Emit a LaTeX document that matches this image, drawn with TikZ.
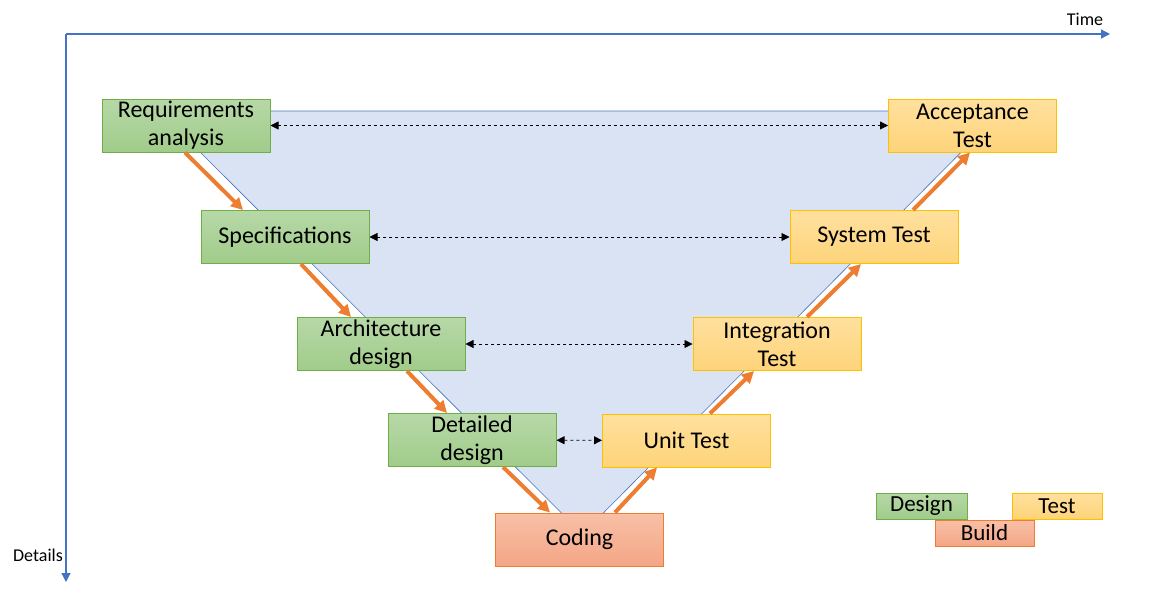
\documentclass[tikz,border=0pt]{standalone}
\usepackage{fontspec}
\setmainfont{Carlito}
\usetikzlibrary{arrows.meta,calc}

\definecolor{axisblue}{RGB}{68,114,196}
\definecolor{vfill}{RGB}{218,227,243}
\definecolor{greenline}{RGB}{112,173,71}
\definecolor{greentop}{RGB}{183,216,167}
\definecolor{greenbot}{RGB}{160,204,138}
\definecolor{yellowline}{RGB}{255,192,0}
\definecolor{yellowtop}{RGB}{255,224,158}
\definecolor{yellowbot}{RGB}{254,212,122}
\definecolor{orangeline}{RGB}{237,125,49}
\definecolor{orangetop}{RGB}{248,192,167}
\definecolor{orangebot}{RGB}{244,166,134}

\begin{document}
\begin{tikzpicture}[x=1pt, y=-1pt,
   box/.style={draw, line width=1pt, minimum width=168pt, minimum height=53pt,
               inner sep=0pt, align=center, font=\fontsize{24}{28}\selectfont},
   design/.style={box, draw=greenline, top color=greentop, bottom color=greenbot},
   test/.style={box, draw=yellowline, top color=yellowtop, bottom color=yellowbot},
   build/.style={box, draw=orangeline, top color=orangetop, bottom color=orangebot},
   key/.style={minimum height=26pt, font=\fontsize{23}{26}\selectfont},
   flow/.style={draw=orangeline, line width=4pt, -{Triangle[length=12pt,width=12pt]}},
   link/.style={line width=0.8pt, dash pattern=on 3pt off 3pt,
                {Triangle[length=8pt,width=8pt]}-{Triangle[length=8pt,width=8pt]}},
   axis/.style={draw=axisblue, line width=1.2pt, -{Triangle[length=9pt,width=9pt]}},
   axislabel/.style={inner sep=0pt, font=\fontsize{18}{20}\selectfont}]

\useasboundingbox (0,0) rectangle (1156,592);

% axes
\coordinate (origin) at (66,34);
\coordinate (tend) at (1110,34);
\coordinate (dend) at (66,582);
\draw[axis] (origin) -- (tend);
\draw[axis] (origin) -- (dend);
\node[axislabel] (time) at (1085,19) {Time};
\node[axislabel] (details) at (38,555) {Details};

% the V
\filldraw[fill=vfill, draw=axisblue, line width=0.6pt]
   (159,111) -- (1002,111) -- (582.5,534) -- cycle;

% left branch
\node[design] (req)  at (186,125.5) {Requirements\\analysis};
\node[design] (spec) at (285,237)   {Specifications};
\node[design] (arch) at (381,344)   {Architecture\\design};
\node[design] (det)  at (472,440)   {Detailed\\design};

% bottom
\node[build]  (cod)  at (579.5,539.5) {Coding};

% right branch
\node[test] (unit)  at (686.5,440.5) {Unit Test};
\node[test] (integ) at (777,344)     {Integration\\Test};
\node[test] (sys)   at (874,237)     {System Test};
\node[test] (acc)   at (972.5,125.5) {Acceptance\\Test};

% flow
\draw[flow] ($(req.south)+(-1,0)$)   -- ($(spec.north)+(-42,0)$);
\draw[flow] ($(spec.south)+(16,0)$)  -- ($(arch.north)+(-30,0)$);
\draw[flow] ($(arch.south)+(26,0)$)  -- ($(det.north)+(-25,0)$);
\draw[flow] ($(det.south)+(31,0)$)   -- ($(cod.north)+(-29.5,0)$);
\draw[flow] ($(cod.north)+(35.5,0)$) -- ($(unit.south)+(-29.5,0)$);
\draw[flow] ($(unit.north)+(23.5,0)$) -- ($(integ.south)+(-23,0)$);
\draw[flow] ($(integ.north)+(30,0)$) -- ($(sys.south)+(-13,0)$);
\draw[flow] ($(sys.north)+(39,0)$)   -- ($(acc.south)+(-2.5,0)$);

% verification links
\draw[link] (req)  -- (acc);
\draw[link] (spec) -- (sys);
\draw[link] (arch) -- (integ);
\draw[link] (det)  -- (unit);

% legend
\node[design, key, minimum width=91pt] (kdesign) at (921.5,506) {Design};
\node[test, key, minimum width=90pt]   (ktest)   at (1057,506)  {Test};
\node[build, key, minimum width=99pt]  (kbuild)  at (984.5,533) {Build};

\end{tikzpicture}
\end{document}
